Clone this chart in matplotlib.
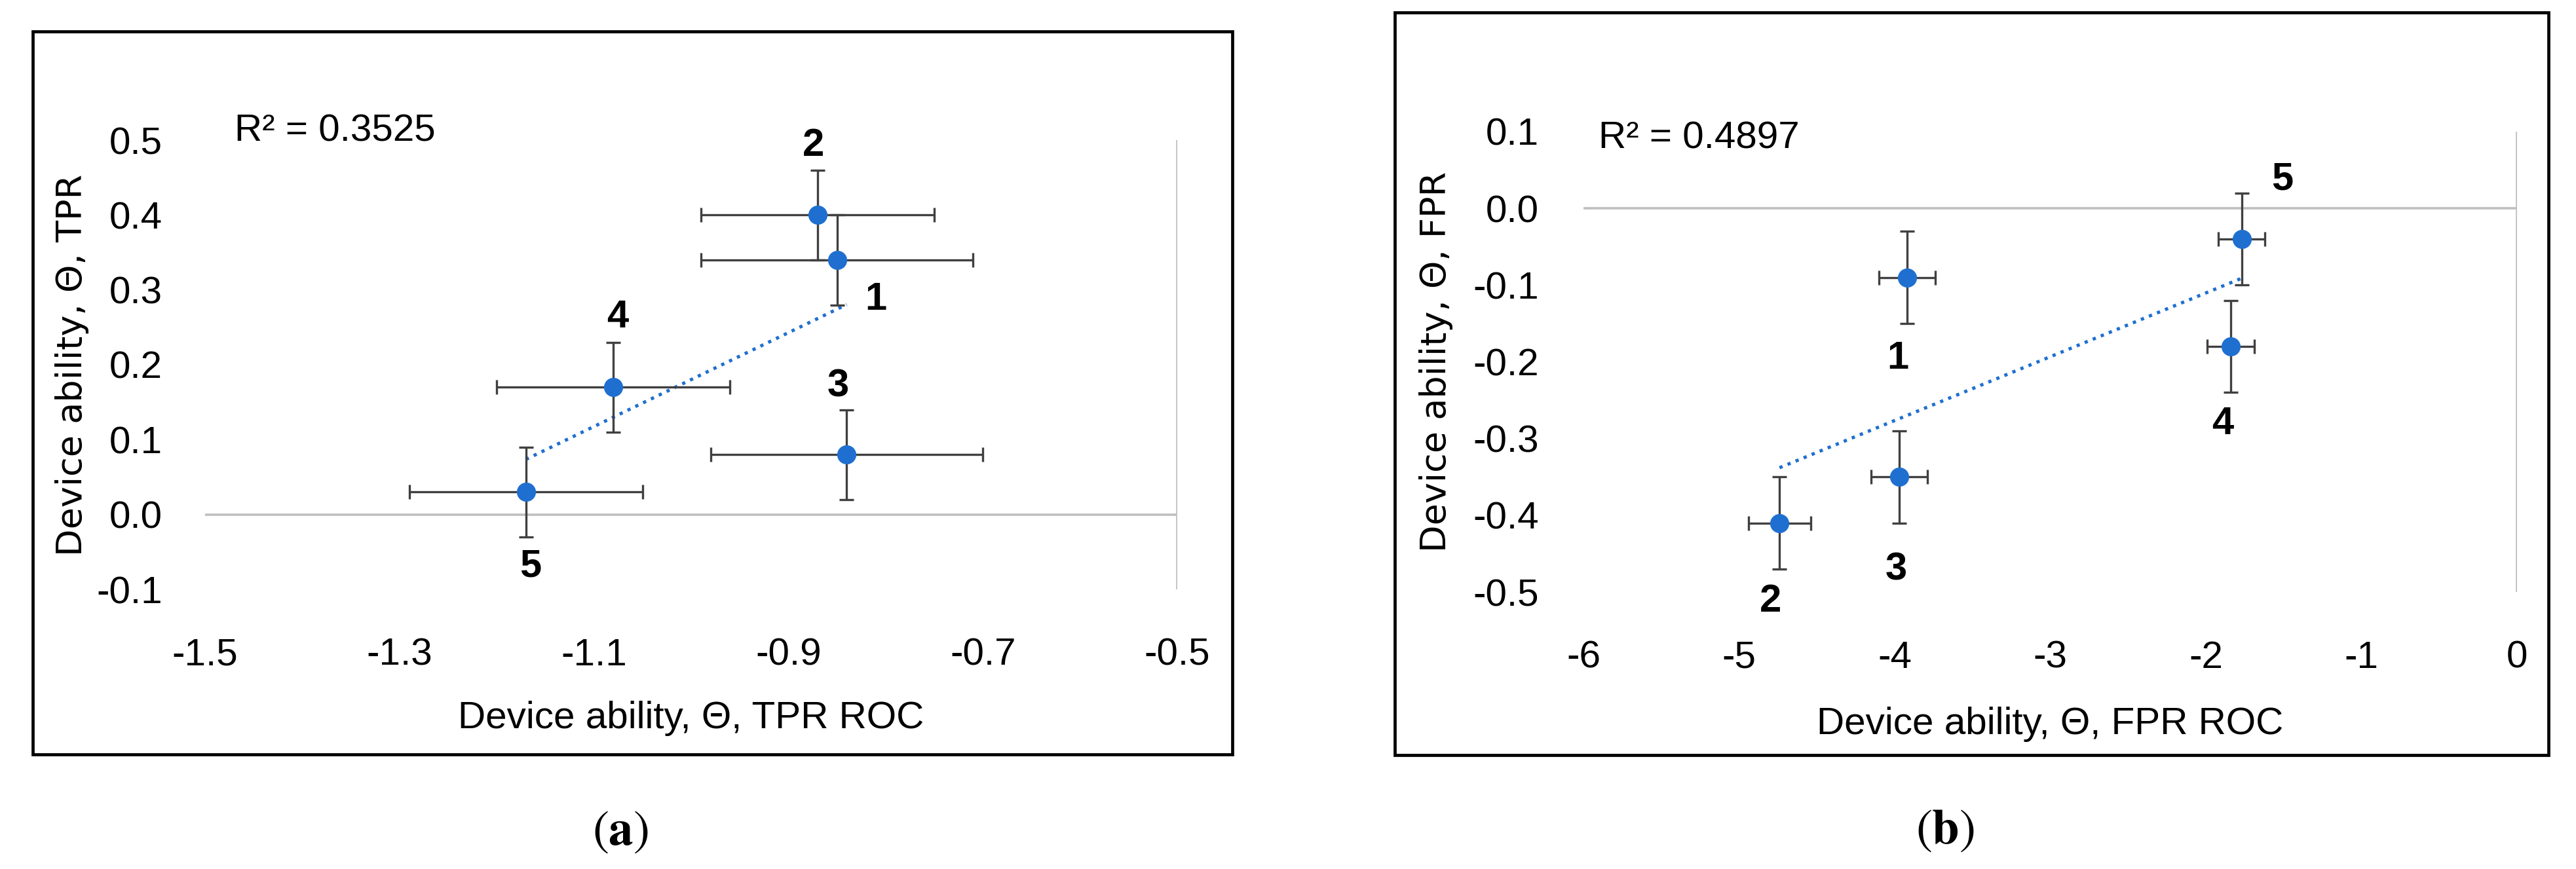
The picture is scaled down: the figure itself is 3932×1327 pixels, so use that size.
import numpy as np
import matplotlib
matplotlib.use("Agg")
import matplotlib.pyplot as plt
from matplotlib.patches import Rectangle
from matplotlib.ticker import FormatStrFormatter

plt.rcParams['axes.unicode_minus'] = False

# panel (a): TPR
tpr_roc = [-0.85, -0.87, -0.84, -1.08, -1.17]
tpr = [0.34, 0.40, 0.08, 0.17, 0.03]
tpr_roc_err = [0.14, 0.12, 0.14, 0.12, 0.12]
tpr_err = [0.06, 0.06, 0.06, 0.06, 0.06]
r2_a = 0.3525

# panel (b): FPR
fpr_roc = [-3.92, -4.74, -3.97, -1.84, -1.77]
fpr = [-0.09, -0.41, -0.35, -0.18, -0.04]
fpr_roc_err = [0.18, 0.20, 0.18, 0.15, 0.15]
fpr_err = [0.06, 0.06, 0.06, 0.06, 0.06]
r2_b = 0.4897

device_ids = ['1', '2', '3', '4', '5']

a_xticks = [-1.5, -1.3, -1.1, -0.9, -0.7, -0.5]
a_yticks = [-0.1, 0.0, 0.1, 0.2, 0.3, 0.4, 0.5]
b_xticks = [-6, -5, -4, -3, -2, -1, 0]
b_yticks = [-0.5, -0.4, -0.3, -0.2, -0.1, 0.0, 0.1]

W, H = 3932, 1327
DPI = 100
BLUE = '#1F6FD0'
GREY = '#404040'
AXGREY = '#BFBFBF'
TICKFONT = 'Liberation Sans'

fig = plt.figure(figsize=(W / DPI, H / DPI), dpi=DPI)
fig.patch.set_facecolor('white')


def px_axes(x0, x1, ytop, ybot):
    return fig.add_axes([x0 / W, 1 - ybot / H, (x1 - x0) / W, (ybot - ytop) / H])


def draw_panel(ax, x, y, xerr, yerr, xticks, yticks, xfmt, xlabel, ylabel,
               r2, r2_pos, label_offsets, ylab_x, ypad):
    ax.set_xlim(xticks[0], xticks[-1])
    ax.set_ylim(yticks[0], yticks[-1])
    for s in ax.spines.values():
        s.set_visible(False)
    ax.axhline(0, color=AXGREY, lw=2.6, zorder=1)
    ax.axvline(xticks[-1], color=AXGREY, lw=2.6, zorder=1)

    # linear trend line through the points
    k, b = np.polyfit(x, y, 1)
    xs = np.array([min(x), max(x)])
    ax.plot(xs, k * xs + b, color=BLUE, lw=3.6, ls=':', zorder=2)

    ax.errorbar(x, y, xerr=xerr, yerr=yerr, fmt='o', color=BLUE, ms=20,
                mec=BLUE, ecolor=GREY, elinewidth=2.4, capsize=8,
                capthick=2.4, zorder=3)

    for xi, yi, lab, off in zip(x, y, device_ids, label_offsets):
        ax.annotate(lab, (xi, yi), xytext=off, textcoords='offset pixels',
                    ha='center', va='center', fontsize=43, fontweight='bold',
                    family=TICKFONT, color='black')

    ax.set_xticks(xticks)
    ax.set_yticks(yticks)
    ax.xaxis.set_major_formatter(FormatStrFormatter(xfmt))
    ax.yaxis.set_major_formatter(FormatStrFormatter('%.1f'))
    ax.tick_params(length=0, labelsize=42)
    ax.tick_params(axis='y', pad=ypad)
    ax.tick_params(axis='x', pad=53)
    for t in ax.get_xticklabels() + ax.get_yticklabels():
        t.set_family(TICKFONT)

    ax.set_xlabel(xlabel, fontsize=42, family=TICKFONT)
    ax.xaxis.set_label_coords(0.5, -0.287)
    ax.xaxis.label.set_va('center')
    ax.set_ylabel(ylabel, fontsize=39, family='DejaVu Sans')
    ax.yaxis.set_label_coords(ylab_x, 0.5)
    ax.yaxis.label.set_va('center')

    ax.text(r2_pos[0], r2_pos[1], 'R\u00b2 = %.4f' % r2, transform=ax.transAxes,
            ha='left', va='center', fontsize=42, family=TICKFONT)


# panel (a)
fig.patches.append(Rectangle((50 / W, 1 - 1152 / H), (1881 - 50) / W, (1152 - 48) / H,
                             transform=fig.transFigure, fill=False, ec='black', lw=3.4))
ax1 = px_axes(313, 1797, 214, 900)
draw_panel(ax1, tpr_roc, tpr, tpr_roc_err, tpr_err, a_xticks, a_yticks, '%.1f',
           'Device ability, \u0398, TPR ROC', 'Device ability, \u0398, TPR',
           r2_a, (0.03, 1.019),
           [(59, -61), (-6, 106), (-13, 104), (6, 107), (7, -114)],
           -0.137, 47)

# panel (b)
fig.patches.append(Rectangle((2129 / W, 1 - 1153 / H), (3890 - 2129) / W, (1153 - 19) / H,
                             transform=fig.transFigure, fill=False, ec='black', lw=3.4))
ax2 = px_axes(2417, 3842, 201, 904)
draw_panel(ax2, fpr_roc, fpr, fpr_roc_err, fpr_err, b_xticks, b_yticks, '%d',
           'Device ability, \u0398, FPR ROC', 'Device ability, \u0398, FPR',
           r2_b, (0.016, 0.985),
           [(-14, -124), (-14, -120), (-5, -142), (-12, -118), (62, 91)],
           -0.158, 49)

fig.text(947 / W, 1 - 1272 / H, r'($\mathbf{a}$)', family='STIXGeneral',
         math_fontfamily='stix', fontsize=54, ha='center', va='center')
fig.text(2969 / W, 1 - 1270 / H, r'($\mathbf{b}$)', family='STIXGeneral',
         math_fontfamily='stix', fontsize=54, ha='center', va='center')

fig.savefig('out.png', dpi=DPI, facecolor='white')
